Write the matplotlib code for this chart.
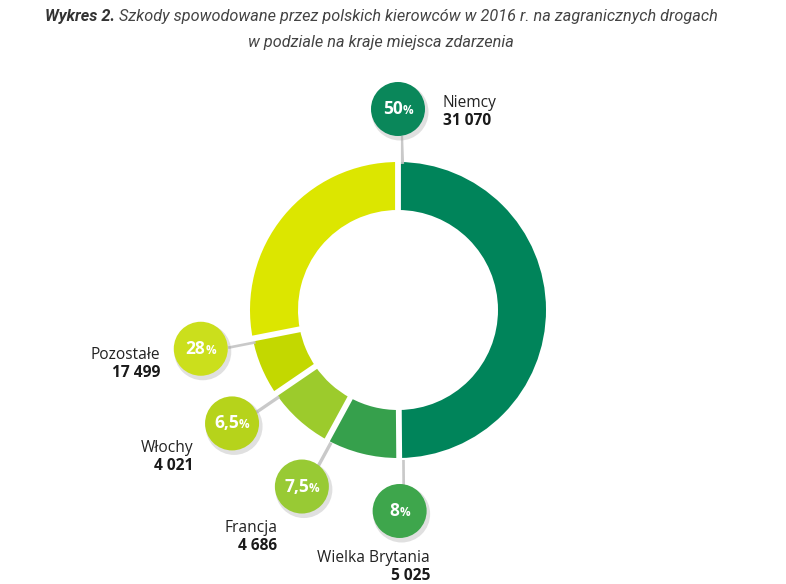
import matplotlib.pyplot as plt
import numpy as np
from matplotlib.patches import Circle

countries = ['Niemcy', 'Wielka Brytania', 'Francja', 'Włochy', 'Pozostałe']
claims = [31070, 5025, 4686, 4021, 17499]
shares = ['50', '8', '7,5', '6,5', '28']
claim_labels = ['31 070', '5 025', '4 686', '4 021', '17 499']
ring_colors = ['#00845a', '#36a04c', '#9ccb2c', '#c3d800', '#dce600']
dot_colors = ['#0a875a', '#3ea64c', '#98ca34', '#b6d31b', '#cbdf1c']

title_bold = 'Wykres 2.'
title_rest = ' Szkody spowodowane przez polskich kierowców w 2016 r. na zagranicznych drogach'
title_line2 = 'w podziale na kraje miejsca zdarzenia'

W, H = 786, 584
fig = plt.figure(figsize=(W / 100, H / 100), dpi=100)
ax = fig.add_axes([0, 0, 1, 1])

cx, cy = 398, 310
R, ring_w = 148, 48
r_dot, dot_size = 201, 27

# y axis inverted -> start at 270 and go "counterclock" to get clockwise from top on screen
ax.pie(claims, colors=ring_colors, center=(cx, cy), radius=R, startangle=270,
       counterclock=True, wedgeprops=dict(width=ring_w, linewidth=0))
ax.set_xlim(0, W)
ax.set_ylim(H, 0)
ax.set_aspect('equal')
ax.axis('off')

total = sum(claims)
cum = np.concatenate([[0], np.cumsum(claims)[:-1]])
angles = np.deg2rad(270 + 360 * cum / total)

renderer = fig.canvas.get_renderer()

def text_width(t):
    bb = t.get_window_extent(renderer=renderer)
    return bb.width

font = ['Open Sans', 'DejaVu Sans']
label_xy = [(443, 103, 'left'), (430, 558, 'right'), (277, 528, 'right'),
            (193, 448, 'right'), (160, 355, 'right')]

for i, a in enumerate(angles):
    c, s = np.cos(a), np.sin(a)
    # separator through the ring and out to the bubble
    r0, r1 = R - ring_w - 2, r_dot - dot_size + 2
    ax.plot([cx + R * c + 2.5, cx + r1 * c + 2.5], [cy + R * s + 2, cy + r1 * s + 2],
            color='#c4c4c4', lw=4.5, alpha=0.9, solid_capstyle='butt', zorder=3)
    ax.plot([cx + r0 * c, cx + r1 * c], [cy + r0 * s, cy + r1 * s],
            color='white', lw=4.2, solid_capstyle='butt', zorder=4)
    bx, by = cx + r_dot * c, cy + r_dot * s
    ax.add_patch(Circle((bx + 2, by + 3), dot_size + 1.5, color='#999999', alpha=0.3, lw=0, zorder=5))
    ax.add_patch(Circle((bx, by), dot_size, color=dot_colors[i], lw=0, zorder=6))
    t1 = ax.text(0, 0, shares[i], fontsize=12.5, fontweight='bold', color='white',
                 family=font, ha='left', va='center', zorder=7)
    t2 = ax.text(0, 0, '%', fontsize=8.5, fontweight='bold', color='white',
                 family=font, ha='left', va='center', zorder=7)
    w1, w2 = text_width(t1), text_width(t2)
    x0 = bx - (w1 + w2) / 2
    t1.set_position((x0, by))
    t2.set_position((x0 + w1, by + 1.5))

    lx, ly, ha = label_xy[i]
    ax.text(lx, ly, countries[i], fontsize=11.2, color='#222222', family=font,
            ha=ha, va='center')
    ax.text(lx, ly + 18, claim_labels[i], fontsize=11.2, fontweight='bold',
            color='#1a1a1a', family=font, ha=ha, va='center')

tfont = ['Liberation Sans Narrow', 'Roboto', 'DejaVu Sans']
tb = ax.text(0, 16, title_bold, fontsize=11.7, fontweight='bold', style='italic',
             color='#333333', family=tfont, ha='left', va='center')
tr = ax.text(0, 16, title_rest, fontsize=11.7, style='italic', color='#444444',
             family=tfont, ha='left', va='center')
wb, wr = text_width(tb), text_width(tr)
x0 = 381 - (wb + wr) / 2
tb.set_x(x0)
tr.set_x(x0 + wb)
ax.text(381, 43, title_line2, fontsize=11.7, style='italic', color='#444444',
        family=tfont, ha='center', va='center')

fig.savefig('out.png', dpi=100)
